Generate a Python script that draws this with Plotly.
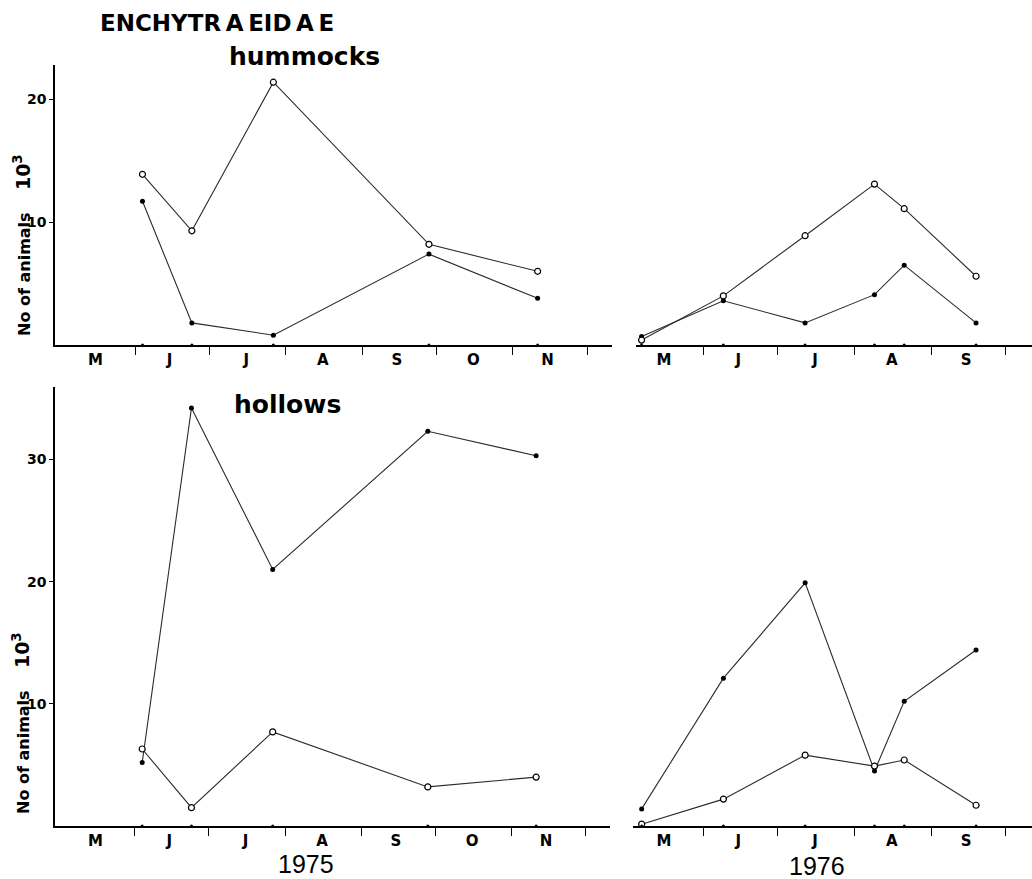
import plotly.graph_objects as go

W, H = 1032, 879

# Sampling dates and Enchytraeidae densities (thousands of animals)
dates_1975 = ["1975-06-04", "1975-06-24", "1975-07-27", "1975-09-28", "1975-11-11"]
hummocks_1975_open = [13.9, 9.3, 21.4, 8.2, 6.0]
hummocks_1975_filled = [11.7, 1.8, 0.8, 7.4, 3.8]
hollows_1975_open = [6.3, 1.5, 7.7, 3.2, 4.0]
hollows_1975_filled = [5.2, 34.2, 21.0, 32.3, 30.3]

dates_1976 = ["1976-05-07", "1976-06-09", "1976-07-12", "1976-08-09", "1976-08-21", "1976-09-19"]
hummocks_1976_open = [0.4, 4.0, 8.9, 13.1, 11.1, 5.6]
hummocks_1976_filled = [0.7, 3.6, 1.8, 4.1, 6.5, 1.8]
hollows_1976_open = [0.15, 2.2, 5.8, 4.9, 5.4, 1.7]
hollows_1976_filled = [1.4, 12.1, 19.9, 4.5, 10.2, 14.4]

# Month letters (centred mid-month) and month boundaries (tick marks)
month_letters_1975 = ["M", "J", "J", "A", "S", "O", "N"]
month_mids_1975 = ["1975-05-16", "1975-06-15", "1975-07-16", "1975-08-16",
                   "1975-09-15", "1975-10-16", "1975-11-15"]
month_starts_1975 = ["1975-06-01", "1975-07-01", "1975-08-01", "1975-09-01",
                     "1975-10-01", "1975-11-01", "1975-12-01"]
month_letters_1976 = ["M", "J", "J", "A", "S"]
month_mids_1976 = ["1976-05-16", "1976-06-15", "1976-07-16", "1976-08-16", "1976-09-15"]
month_starts_1976 = ["1976-06-01", "1976-07-01", "1976-08-01", "1976-09-01", "1976-10-01"]

LINE = "#2a2a2a"
FONT = "DejaVu Sans"


def px(x):
    return x / W


def py(y):
    return 1 - y / H


fig = go.Figure()


def add_panel(xref, yref, dates, open_vals, filled_vals):
    fig.add_trace(go.Scatter(
        x=dates, y=filled_vals, xaxis=xref, yaxis=yref, mode="lines+markers",
        line=dict(color=LINE, width=1.1),
        marker=dict(symbol="circle", size=5, color="black"),
        showlegend=False, hoverinfo="skip", cliponaxis=False))
    fig.add_trace(go.Scatter(
        x=dates, y=open_vals, xaxis=xref, yaxis=yref, mode="lines+markers",
        line=dict(color=LINE, width=1.1),
        marker=dict(symbol="circle", size=6, color="white",
                    line=dict(color="black", width=1.2)),
        showlegend=False, hoverinfo="skip", cliponaxis=False))
    # sampling dates marked on the time axis
    fig.add_trace(go.Scatter(
        x=dates, y=[0] * len(dates), xaxis=xref, yaxis=yref, mode="markers",
        marker=dict(size=3, color="black"),
        showlegend=False, hoverinfo="skip", cliponaxis=False))


add_panel("x", "y", dates_1975, hummocks_1975_open, hummocks_1975_filled)
add_panel("x2", "y2", dates_1976, hummocks_1976_open, hummocks_1976_filled)
add_panel("x3", "y3", dates_1975, hollows_1975_open, hollows_1975_filled)
add_panel("x4", "y4", dates_1976, hollows_1976_open, hollows_1976_filled)


def time_axis(domain, rng, mids, letters, starts, anchor):
    return dict(
        domain=domain, anchor=anchor, type="date", range=rng,
        showline=True, linecolor="black", linewidth=1.5,
        showgrid=False, zeroline=False,
        tickmode="array", tickvals=mids, ticktext=letters, ticks="",
        tickfont=dict(family=FONT, size=15, color="black", weight="bold"),
        minor=dict(tickmode="array", tickvals=starts, ticks="outside",
                   ticklen=8, tickwidth=1, tickcolor="black", showgrid=False),
        automargin=False, fixedrange=True)


def count_axis(domain, top, ticks, anchor, visible=True):
    return dict(
        domain=domain, anchor=anchor, range=[0, top], visible=visible,
        showline=True, linecolor="black", linewidth=1.5,
        showgrid=False, zeroline=False,
        tickmode="array", tickvals=ticks, ticks="outside", ticklen=4,
        tickwidth=1, tickcolor="black",
        tickfont=dict(family=FONT, size=14, color="black", weight="bold"),
        automargin=False, fixedrange=True)


top_dom = [py(345), py(65)]
bot_dom = [py(826), py(386.7)]
range_1975 = ["1975-04-29 14:00", "1975-12-11"]

fig.update_layout(
    width=W, height=H,
    margin=dict(l=0, r=0, t=0, b=0),
    paper_bgcolor="white", plot_bgcolor="white",
    xaxis=time_axis([px(55), px(611.7)], range_1975,
                    month_mids_1975, month_letters_1975, month_starts_1975, "y"),
    yaxis=count_axis(top_dom, 22.8, [10, 20], "x"),
    xaxis2=time_axis([px(636), 1], ["1976-05-04 18:00", "1976-10-11 14:00"],
                     month_mids_1976, month_letters_1976, month_starts_1976, "y2"),
    yaxis2=count_axis(top_dom, 22.8, [10, 20], "x2", visible=False),
    xaxis3=time_axis([px(55), px(610)], range_1975,
                     month_mids_1975, month_letters_1975, month_starts_1975, "y3"),
    yaxis3=count_axis(bot_dom, 35.95, [10, 20, 30], "x3"),
    xaxis4=time_axis([px(633), 1], ["1976-05-03 12:00", "1976-10-11 14:00"],
                     month_mids_1976, month_letters_1976, month_starts_1976, "y4"),
    yaxis4=count_axis(bot_dom, 35.95, [10, 20, 30], "x4", visible=False),
)

thin = "\u2009"
nb = "\u00a0"
ytitle = ("<b>No of animals" + nb * 4 +
          "<span style='font-size:19px'>10<sup>3</sup></span></b>")

annotations = [
    dict(text="<b>ENCHYTR" + thin + "A" + thin + "EID" + thin + "A" + thin + "E</b>",
         x=px(216.5), y=py(23), font=dict(family=FONT, size=23, color="black")),
    dict(text="<b>hummocks</b>", x=px(304.5), y=py(57),
         font=dict(family=FONT, size=25, color="black")),
    dict(text="<b>hollows</b>", x=px(287), y=py(404),
         font=dict(family=FONT, size=25, color="black")),
    dict(text=ytitle, x=px(22), y=py(245), textangle=-90,
         font=dict(family=FONT, size=16, color="black")),
    dict(text=ytitle, x=px(21), y=py(723), textangle=-90,
         font=dict(family=FONT, size=16, color="black")),
    dict(text="1975", x=px(306), y=py(864),
         font=dict(family="Liberation Sans", size=25, color="black")),
    dict(text="1976", x=px(817), y=py(866),
         font=dict(family="Liberation Sans", size=25, color="black")),
]
for a in annotations:
    a.update(xref="paper", yref="paper", showarrow=False,
             xanchor="center", yanchor="middle")
fig.update_layout(annotations=annotations)

fig.write_html("out.html")
